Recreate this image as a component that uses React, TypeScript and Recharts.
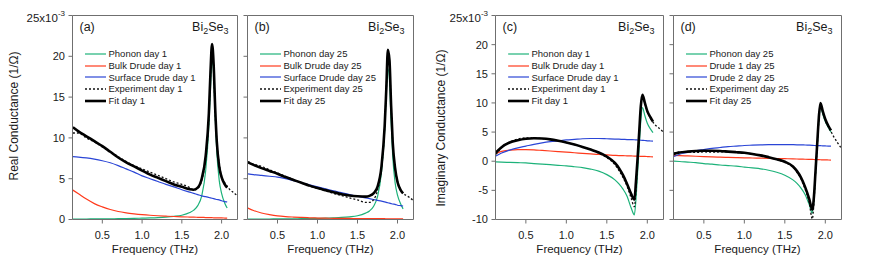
import React from "react";
import { LineChart, Line, XAxis, YAxis, Legend } from "recharts";

// frequency grid (THz) shared by all panels
const freq = [
  0.13, 0.2, 0.3, 0.4, 0.5, 0.6, 0.7, 0.8, 0.9, 1.0, 1.1, 1.2, 1.3, 1.4, 1.5, 1.6, 1.65, 1.7,
  1.75, 1.8, 1.84, 1.86, 1.88, 1.9, 1.92, 1.94, 1.97, 2.0, 2.04, 2.07, 2.1, 2.15, 2.2,
];
const xTicks = [0.5, 1.0, 1.5, 2.0];
const realTicks = [0, 5, 10, 15, 20, 25];
const imagTicks = [-10, -5, 0, 5, 10, 15, 20, 25];

// (a) real, day 1  (units of 1e-3 1/Ω)
const phononA = [0.05, 0.05, 0.06, 0.07, 0.08, 0.09, 0.1, 0.12, 0.14, 0.16, 0.19, 0.23, 0.29, 0.38, 0.52, 0.85, 1.15, 1.7, 2.9, 6.0, 11.5, 16.0, 19.5, 17.8, 12.5, 8.2, 4.8, 3.2, 2.0, 1.4];
const bulkA = [3.6, 3.15, 2.5, 1.95, 1.55, 1.22, 0.98, 0.82, 0.7, 0.6, 0.52, 0.46, 0.41, 0.37, 0.33, 0.3, 0.28, 0.27, 0.26, 0.24, 0.23, 0.22, 0.22, 0.21, 0.21, 0.2, 0.2, 0.19, 0.18, 0.17];
const surfaceA = [7.7, 7.65, 7.55, 7.4, 7.2, 6.95, 6.6, 6.2, 5.8, 5.35, 5.0, 4.65, 4.3, 4.0, 3.65, 3.35, 3.2, 3.05, 2.9, 2.8, 2.7, 2.65, 2.6, 2.55, 2.5, 2.45, 2.4, 2.3, 2.2, 2.15];
const expA = [10.6, 10.6, 10.0, 9.5, 8.9, 8.3, 7.7, 7.1, 6.6, 6.2, 5.8, 5.4, 5.0, 4.6, 4.3, 3.9, 3.6, 3.8, 4.8, 7.5, 12.5, 17.5, 21.0, 18.5, 13.0, 9.5, 6.8, 5.3, 4.5, 4.1, 3.7, 3.3, 2.9];
const fitA = [11.3, 10.8, 10.2, 9.6, 9.0, 8.3, 7.6, 7.0, 6.5, 6.0, 5.5, 5.1, 4.7, 4.3, 4.0, 3.7, 3.65, 3.9, 5.0, 7.8, 13.0, 18.0, 21.5, 19.0, 13.5, 9.5, 6.5, 5.2, 4.3, 3.9];

// (b) real, day 25
const phononB = [0.04, 0.04, 0.05, 0.06, 0.07, 0.08, 0.09, 0.1, 0.12, 0.14, 0.16, 0.2, 0.25, 0.33, 0.46, 0.78, 1.05, 1.6, 2.8, 5.8, 11.0, 15.5, 18.5, 17.0, 12.0, 7.8, 4.5, 3.0, 1.9, 1.3];
const bulkB = [1.4, 1.1, 0.8, 0.6, 0.45, 0.36, 0.3, 0.25, 0.21, 0.18, 0.16, 0.15, 0.14, 0.13, 0.12, 0.11, 0.11, 0.1, 0.1, 0.1, 0.1, 0.09, 0.09, 0.09, 0.09, 0.09, 0.08, 0.08, 0.08, 0.08];
const surfaceB = [5.6, 5.5, 5.4, 5.3, 5.2, 5.0, 4.75, 4.5, 4.25, 4.0, 3.75, 3.5, 3.3, 3.05, 2.85, 2.65, 2.55, 2.45, 2.35, 2.25, 2.15, 2.1, 2.05, 2.0, 1.95, 1.9, 1.85, 1.75, 1.7, 1.65];
const expB = [7.1, 6.8, 6.5, 6.1, 5.7, 5.3, 4.9, 4.5, 4.1, 3.8, 3.5, 3.2, 2.95, 2.65, 2.4, 2.1, 2.1, 2.4, 3.6, 6.3, 11.5, 16.0, 20.3, 19.2, 14.0, 9.5, 6.3, 4.7, 3.7, 3.2, 3.0, 2.7, 2.3];
const fitB = [7.0, 6.7, 6.3, 5.95, 5.6, 5.2, 4.85, 4.5, 4.15, 3.85, 3.6, 3.35, 3.1, 2.95, 2.85, 2.8, 2.9, 3.2, 4.0, 6.5, 11.5, 16.0, 20.8, 19.5, 14.0, 9.5, 6.3, 4.6, 3.6, 3.2];

// (c) imaginary, day 1
const phononC = [-0.1, -0.15, -0.2, -0.25, -0.3, -0.4, -0.5, -0.6, -0.7, -0.8, -0.95, -1.1, -1.35, -1.7, -2.3, -3.2, -3.9, -4.8, -6.0, -8.0, -9.2, -6.5, -2.0, 2.5, 7.0, 9.2, 7.8, 6.5, 5.5, 4.9];
const bulkC = [1.3, 1.7, 1.9, 2.0, 2.0, 1.95, 1.85, 1.75, 1.65, 1.55, 1.45, 1.35, 1.25, 1.15, 1.08, 1.0, 0.97, 0.95, 0.92, 0.9, 0.88, 0.87, 0.86, 0.85, 0.84, 0.83, 0.82, 0.8, 0.77, 0.75];
const surfaceC = [0.9, 1.4, 1.9, 2.3, 2.6, 2.9, 3.15, 3.35, 3.5, 3.65, 3.75, 3.85, 3.9, 3.9, 3.85, 3.8, 3.78, 3.75, 3.72, 3.7, 3.68, 3.66, 3.64, 3.62, 3.6, 3.58, 3.55, 3.5, 3.47, 3.45];
const expC = [1.2, 2.3, 3.3, 3.8, 4.0, 4.0, 3.9, 3.7, 3.5, 3.2, 2.85, 2.45, 2.0, 1.4, 0.6, -0.6, -1.6, -2.8, -4.3, -6.3, -7.8, -5.0, 0.0, 4.5, 9.0, 11.2, 9.9, 8.5, 7.4, 6.7, 6.2, 5.6, 5.0];
const fitC = [1.5, 2.4, 3.2, 3.6, 3.85, 3.95, 3.9, 3.75, 3.5, 3.2, 2.85, 2.45, 2.0, 1.5, 0.8, -0.3, -1.2, -2.4, -3.9, -5.6, -6.6, -3.5, 0.5, 5.0, 9.5, 11.4, 10.0, 8.6, 7.5, 6.8];

// (d) imaginary, day 25
const phononD = [0, -0.05, -0.15, -0.25, -0.4, -0.5, -0.65, -0.75, -0.85, -1.0, -1.15, -1.3, -1.55, -1.9, -2.4, -3.2, -3.8, -4.6, -5.7, -7.4, -8.9, -6.5, -2.0, 2.5, 7.0, 9.4, 8.0, 6.8, 5.7, 5.0];
const drude1D = [1.0, 0.95, 0.9, 0.85, 0.8, 0.75, 0.7, 0.66, 0.62, 0.58, 0.55, 0.52, 0.49, 0.46, 0.43, 0.4, 0.38, 0.36, 0.34, 0.32, 0.3, 0.29, 0.28, 0.27, 0.26, 0.25, 0.24, 0.22, 0.21, 0.2];
const drude2D = [0.8, 1.2, 1.5, 1.8, 2.0, 2.2, 2.35, 2.5, 2.6, 2.7, 2.75, 2.8, 2.83, 2.85, 2.85, 2.83, 2.82, 2.8, 2.78, 2.75, 2.72, 2.7, 2.69, 2.68, 2.67, 2.66, 2.64, 2.62, 2.6, 2.6];
const expD = [1.1, 1.6, 1.6, 1.5, 1.6, 1.55, 1.6, 1.6, 1.5, 1.4, 1.25, 0.95, 0.65, 0.3, -0.2, -1.0, -1.9, -3.0, -4.8, -7.0, -9.9, -7.0, -2.0, 2.5, 7.0, 9.8, 8.3, 7.0, 5.8, 5.1, 4.3, 3.2, 2.2];
const fitD = [1.3, 1.5, 1.65, 1.75, 1.8, 1.8, 1.75, 1.65, 1.55, 1.45, 1.25, 1.0, 0.7, 0.35, -0.1, -0.9, -1.7, -2.8, -4.4, -6.4, -8.3, -6.0, -1.5, 3.0, 7.5, 10.0, 8.5, 7.2, 6.0, 5.3];

const FONT = '"Liberation Sans", Arial, sans-serif';
const AXIS = "#6f6f6f";
const TEXT = "#1a1a1a";

type Key = "phonon" | "bulk" | "surface" | "experiment" | "fit";
const keys: Key[] = ["phonon", "bulk", "surface", "experiment", "fit"];

const styles: Record<Key, { stroke: string; width: number; dash?: string }> = {
  phonon: { stroke: "#1db27a", width: 1.2 },
  bulk: { stroke: "#ff3a1c", width: 1.2 },
  surface: { stroke: "#2a45d6", width: 1.2 },
  experiment: { stroke: "#111", width: 1.3, dash: "2 2" },
  fit: { stroke: "#000", width: 2.6 },
};

function rows(cols: Record<Key, number[]>) {
  return freq.map((f, i) => {
    const r: Record<string, number | undefined> = { f };
    keys.forEach((k) => {
      r[k] = cols[k][i];
    });
    return r;
  });
}

const panels = [
  {
    tag: "(a)",
    data: rows({ phonon: phononA, bulk: bulkA, surface: surfaceA, experiment: expA, fit: fitA }),
    names: ["Phonon day 1", "Bulk Drude day 1", "Surface Drude day 1", "Experiment day 1", "Fit day 1"],
    yDomain: [0, 25], yTicks: realTicks, labels: true,
    chartLeft: 0, chartWidth: 245, plotLeft: 72.5, plotRight: 237.5,
  },
  {
    tag: "(b)",
    data: rows({ phonon: phononB, bulk: bulkB, surface: surfaceB, experiment: expB, fit: fitB }),
    names: ["Phonon day 25", "Bulk Drude day 25", "Surface Drude day 25", "Experiment day 25", "Fit day 25"],
    yDomain: [0, 25], yTicks: realTicks, labels: false,
    chartLeft: 200, chartWidth: 220, plotLeft: 247.5, plotRight: 413.5,
  },
  {
    tag: "(c)",
    data: rows({ phonon: phononC, bulk: bulkC, surface: surfaceC, experiment: expC, fit: fitC }),
    names: ["Phonon day 1", "Bulk Drude day 1", "Surface Drude day 1", "Experiment day 1", "Fit day 1"],
    yDomain: [-10, 25], yTicks: imagTicks, labels: true,
    chartLeft: 420, chartWidth: 250, plotLeft: 495.5, plotRight: 663.5,
  },
  {
    tag: "(d)",
    data: rows({ phonon: phononD, bulk: drude1D, surface: drude2D, experiment: expD, fit: fitD }),
    names: ["Phonon day 25", "Drude 1 day 25", "Drude 2 day 25", "Experiment day 25", "Fit day 25"],
    yDomain: [-10, 25], yTicks: imagTicks, labels: false,
    chartLeft: 640, chartWidth: 232, plotLeft: 673.5, plotRight: 841.5,
  },
];

const TOP = 15.5;
const BOTTOM = 219.5;

function makeYTick(show: boolean) {
  return (props: any) => {
    const { x, y, payload } = props;
    if (!show) return <g />;
    if (payload.value === 25) {
      return (
        <text x={x} y={y + 6} textAnchor="end" fontSize={11.5} fill={TEXT} fontFamily={FONT}>
          25x10<tspan dy={-6} fontSize={8}>-3</tspan>
        </text>
      );
    }
    return (
      <text x={x} y={y} dy="0.36em" textAnchor="end" fontSize={11} fill={TEXT} fontFamily={FONT}>
        {payload.value}
      </text>
    );
  };
}

function LegendBox(props: any) {
  const payload = [...(props.payload ?? [])].sort(
    (a: any, b: any) => keys.indexOf(a.dataKey) - keys.indexOf(b.dataKey)
  );
  return (
    <div style={{ fontFamily: FONT, fontSize: 9.5, color: TEXT }}>
      {payload.map((e: any) => {
        const st = styles[e.dataKey as Key];
        return (
          <div key={e.dataKey} style={{ display: "flex", alignItems: "center", height: 11.7, whiteSpace: "nowrap" }}>
            <svg width={21} height={6} style={{ marginRight: 3 }}>
              <line x1={0} x2={21} y1={3} y2={3} stroke={st.stroke} strokeWidth={st.width} strokeDasharray={st.dash} />
            </svg>
            <span>{e.value}</span>
          </div>
        );
      })}
    </div>
  );
}

function Panel({ p }: { p: (typeof panels)[number] }) {
  const ml = p.plotLeft - p.chartLeft;
  const mr = p.chartLeft + p.chartWidth - p.plotRight;
  return (
    <div style={{ position: "absolute", left: p.chartLeft, top: 0 }}>
      <LineChart
        width={p.chartWidth}
        height={260}
        data={p.data}
        margin={{ top: TOP - 1, bottom: 0, left: 0, right: mr - 1 }}
      >
        <XAxis
          dataKey="f"
          type="number"
          domain={[0.125, 2.2]}
          allowDataOverflow
          ticks={xTicks}
          tickFormatter={(v: number) => v.toFixed(1)}
          height={260 - BOTTOM}
          stroke={AXIS}
          tickSize={4}
          tickMargin={8}
          tick={{ fontSize: 11, fill: TEXT, fontFamily: FONT }}
        />
        <XAxis xAxisId="top" orientation="top" type="number" domain={[0.125, 2.2]} allowDataOverflow
          tick={false} tickLine={false} height={1} stroke={AXIS} />
        <YAxis
          type="number"
          domain={p.yDomain}
          allowDataOverflow
          ticks={p.yTicks}
          width={ml}
          stroke={AXIS}
          tickSize={4}
          tickMargin={3.5}
          tick={makeYTick(p.labels)}
        />
        <YAxis yAxisId="right" orientation="right" type="number" domain={p.yDomain} allowDataOverflow
          tick={false} tickLine={false} width={1} stroke={AXIS} />
        <Legend
          layout="vertical"
          align="center"
          verticalAlign="middle"
          content={<LegendBox />}
          wrapperStyle={{ left: ml + 12, top: 48, width: "auto" }}
        />
        {keys.map((k, i) => (
          <Line
            key={k}
            type="monotone"
            dataKey={k}
            name={p.names[i]}
            stroke={styles[k].stroke}
            strokeWidth={styles[k].width}
            strokeDasharray={styles[k].dash}
            dot={false}
            activeDot={false}
            isAnimationActive={false}
          />
        ))}
      </LineChart>
    </div>
  );
}

export default function App() {
  return (
    <div style={{ position: "absolute", left: 0, top: 0, width: 872, height: 260, background: "#fff", fontFamily: FONT }}>
      {panels.map((p) => (
        <Panel key={p.tag} p={p} />
      ))}
      <svg width={872} height={260} style={{ position: "absolute", left: 0, top: 0, pointerEvents: "none" }}>
        <text transform="translate(17.5,116) rotate(-90)" textAnchor="middle" fontSize={12} fill={TEXT} fontFamily={FONT}>
          Real Conductance (1/Ω)
        </text>
        <text transform="translate(444.5,128) rotate(-90)" textAnchor="middle" fontSize={12} fill={TEXT} fontFamily={FONT}>
          Imaginary Conductance (1/Ω)
        </text>
        {panels.map((p) => (
          <g key={p.tag} fontFamily={FONT} fill={TEXT}>
            <text x={(p.plotLeft + p.plotRight) / 2} y={253} textAnchor="middle" fontSize={11.5}>
              Frequency (THz)
            </text>
            <text x={p.plotLeft + 7} y={31} fontSize={12.5}>
              {p.tag}
            </text>
            <text x={p.plotRight - 9} y={31} textAnchor="end" fontSize={12.5}>
              Bi<tspan dy={3} fontSize={9}>2</tspan>
              <tspan dy={-3}>Se</tspan>
              <tspan dy={3} fontSize={9}>3</tspan>
            </text>
          </g>
        ))}
      </svg>
    </div>
  );
}
